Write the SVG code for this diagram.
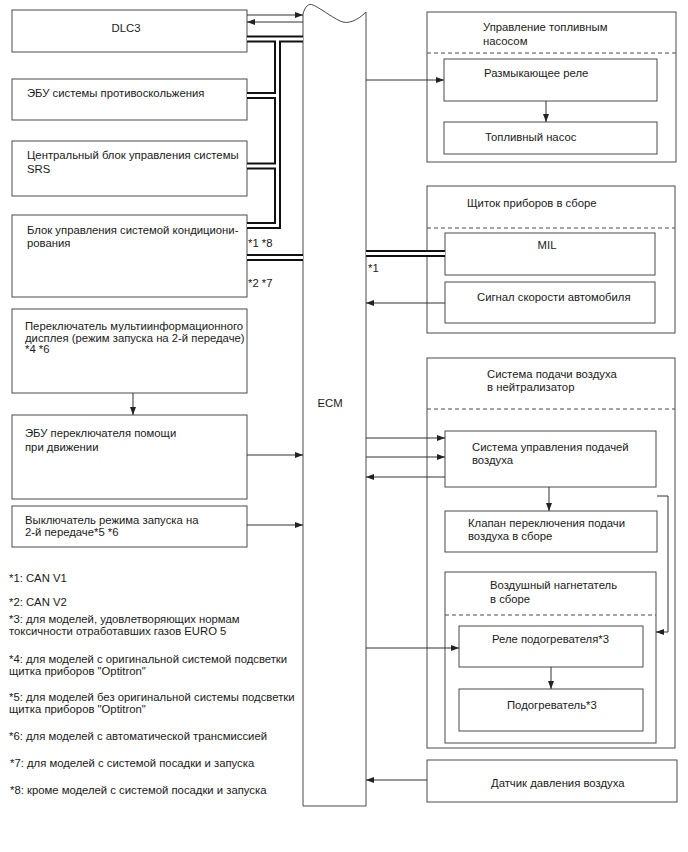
<svg xmlns="http://www.w3.org/2000/svg" width="688" height="852" viewBox="0 0 688 852">
<style>
  .box{fill:#fff;stroke:#4a4a4a;stroke-width:1}
  .t{font-family:"Liberation Sans",Arial,sans-serif;font-size:11.3px;fill:#1a1a1a}
  .dash{stroke:#4a4a4a;stroke-width:1;stroke-dasharray:4 3;fill:none}
  .c{stroke:#333;stroke-width:1;fill:none;marker-end:url(#ah)}
  .busO{stroke:#111;stroke-width:7;fill:none;stroke-linejoin:miter}
  .busI{stroke:#fff;stroke-width:3;fill:none;stroke-linejoin:miter}
</style>
<defs>
  <marker id="ah" viewBox="0 0 8 6" refX="8" refY="3" markerWidth="8" markerHeight="6" orient="auto" markerUnits="userSpaceOnUse">
    <path d="M0,0 L8,3 L0,6 Z" fill="#222"/>
  </marker>
</defs>
<rect width="688" height="852" fill="#fff"/>

<!-- left nodes -->
<g id="dlc3"><rect class="box" x="12" y="10" width="235" height="42"/><text class="t" x="126" y="32" text-anchor="middle">DLC3</text></g>
<g id="abs"><rect class="box" x="12" y="79" width="235" height="41"/><text class="t" x="27" y="97">ЭБУ системы противоскольжения</text></g>
<g id="srs"><rect class="box" x="12" y="141" width="235" height="55"/><text class="t" x="27" y="159">Центральный блок управления системы</text><text class="t" x="27" y="173">SRS</text></g>
<g id="ac"><rect class="box" x="12" y="215" width="235" height="82"/><text class="t" x="27" y="234">Блок управления системой кондициони-</text><text class="t" x="27" y="247">рования</text></g>
<g id="mid"><rect class="box" x="12" y="309" width="235" height="84"/><text class="t" x="25" y="330">Переключатель мультиинформационного</text><text class="t" x="25" y="341.5">дисплея (режим запуска на 2-й передаче)</text><text class="t" x="25" y="353">*4 *6</text></g>
<g id="assist"><rect class="box" x="12" y="415" width="235" height="84"/><text class="t" x="25" y="437">ЭБУ переключателя помощи</text><text class="t" x="25" y="451">при движении</text></g>
<g id="gear2"><rect class="box" x="12" y="506" width="235" height="41"/><text class="t" x="25" y="524">Выключатель режима запуска на</text><text class="t" x="25" y="535.5">2-й передаче*5 *6</text></g>

<!-- ECM -->
<g id="ecm">
  <path class="box" d="M303,806 V14 C305,6 309,3 313,5 C320,8 330,16 340,21 C348,25 358,20 366,12 V806 Z"/>
  <text class="t" x="330" y="407" text-anchor="middle">ECM</text>
</g>

<!-- right nodes -->
<g id="fuel">
  <rect class="box" x="427" y="12" width="249" height="150"/>
  <text class="t" x="483" y="31">Управление топливным</text><text class="t" x="483" y="45">насосом</text>
  <line class="dash" x1="427" y1="53" x2="676" y2="53"/>
</g>
<g id="relay"><rect class="box" x="444" y="59" width="213" height="42"/><text class="t" x="484" y="77">Размыкающее реле</text></g>
<g id="pump"><rect class="box" x="444" y="122" width="213" height="32"/><text class="t" x="485" y="141">Топливный насос</text></g>

<g id="cluster">
  <rect class="box" x="427" y="186" width="248" height="147"/>
  <text class="t" x="467" y="207">Щиток приборов в сборе</text>
  <line class="dash" x1="427" y1="228" x2="675" y2="228"/>
</g>
<g id="mil"><rect class="box" x="445" y="233" width="210" height="42"/><text class="t" x="547" y="249" text-anchor="middle">MIL</text></g>
<g id="speed"><rect class="box" x="445" y="282" width="210" height="41"/><text class="t" x="477" y="301">Сигнал скорости автомобиля</text></g>

<g id="cat">
  <rect class="box" x="427" y="358" width="248" height="390"/>
  <text class="t" x="487" y="378">Система подачи воздуха</text><text class="t" x="487" y="391">в нейтрализатор</text>
  <line class="dash" x1="427" y1="409" x2="675" y2="409"/>
</g>
<g id="airctl"><rect class="box" x="445" y="431" width="211" height="56"/><text class="t" x="472" y="451">Система управления подачей</text><text class="t" x="472" y="464">воздуха</text></g>
<g id="valve"><rect class="box" x="445" y="511" width="212" height="41"/><text class="t" x="468" y="527">Клапан переключения подачи</text><text class="t" x="468" y="539.5">воздуха в сборе</text></g>
<g id="blower">
  <rect class="box" x="445" y="572" width="211" height="171"/>
  <text class="t" x="490" y="589">Воздушный нагнетатель</text><text class="t" x="490" y="603">в сборе</text>
  <line class="dash" x1="445" y1="615" x2="656" y2="615"/>
</g>
<g id="hrelay"><rect class="box" x="459" y="626" width="184" height="41"/><text class="t" x="492" y="643">Реле подогревателя*3</text></g>
<g id="heater"><rect class="box" x="459" y="689" width="184" height="42"/><text class="t" x="507" y="709">Подогреватель*3</text></g>
<g id="press"><rect class="box" x="427" y="760" width="250" height="42"/><text class="t" x="491" y="787">Датчик давления воздуха</text></g>

<!-- connectors -->
<g id="connectors">
  <g id="bus">
    <path class="busO" d="M247,39 H303"/>
    <path class="busO" d="M277.5,39 V225.5 H247"/>
    <path class="busO" d="M247,95.5 H277.5"/>
    <path class="busO" d="M247,166 H277.5"/>
    <path class="busO" d="M247,257.5 H303"/>
    <path class="busO" d="M366,253.5 H445"/>
    <path class="busI" d="M247,39 H303"/>
    <path class="busI" d="M277.5,39 V225.5 H247"/>
    <path class="busI" d="M247,95.5 H277.5"/>
    <path class="busI" d="M247,166 H277.5"/>
    <path class="busI" d="M247,257.5 H303"/>
    <path class="busI" d="M366,253.5 H445"/>
  </g>
  <path class="c" d="M247,15 H303"/>
  <path class="c" d="M303,22 H247"/>
  <path class="c" d="M366,80 H444"/>
  <path class="c" d="M546,101 V122"/>
  <path class="c" d="M445,303 H366"/>
  <path class="c" d="M366,438 H445"/>
  <path class="c" d="M366,457 H445"/>
  <path class="c" d="M445,477 H366"/>
  <path class="c" d="M549,487 V511"/>
  <path class="c" d="M657,496 H668 V632 H656"/>
  <path class="c" d="M366,648 H459"/>
  <path class="c" d="M551,667 V689"/>
  <path class="c" d="M427,780 H366"/>
  <path class="c" d="M133,393 V415"/>
  <path class="c" d="M247,455 H303"/>
  <path class="c" d="M247,525 H303"/>
  <text class="t" x="248" y="247">*1 *8</text>
  <text class="t" x="248" y="287">*2 *7</text>
  <text class="t" x="368" y="272">*1</text>
</g>

<!-- footnotes -->
<g id="notes">
  <text class="t" x="9" y="582">*1: CAN V1</text>
  <text class="t" x="9" y="606">*2: CAN V2</text>
  <text class="t" x="9" y="623">*3: для моделей, удовлетворяющих нормам</text>
  <text class="t" x="9" y="635">токсичности отработавших газов EURO 5</text>
  <text class="t" x="9" y="663">*4: для моделей с оригинальной системой подсветки</text>
  <text class="t" x="9" y="674.5">щитка приборов "Optitron"</text>
  <text class="t" x="9" y="701">*5: для моделей без оригинальной системы подсветки</text>
  <text class="t" x="9" y="712.5">щитка приборов "Optitron"</text>
  <text class="t" x="9" y="740">*6: для моделей с автоматической трансмиссией</text>
  <text class="t" x="10" y="767">*7: для моделей с системой посадки и запуска</text>
  <text class="t" x="10" y="794">*8: кроме моделей с системой посадки и запуска</text>
</g>
</svg>
